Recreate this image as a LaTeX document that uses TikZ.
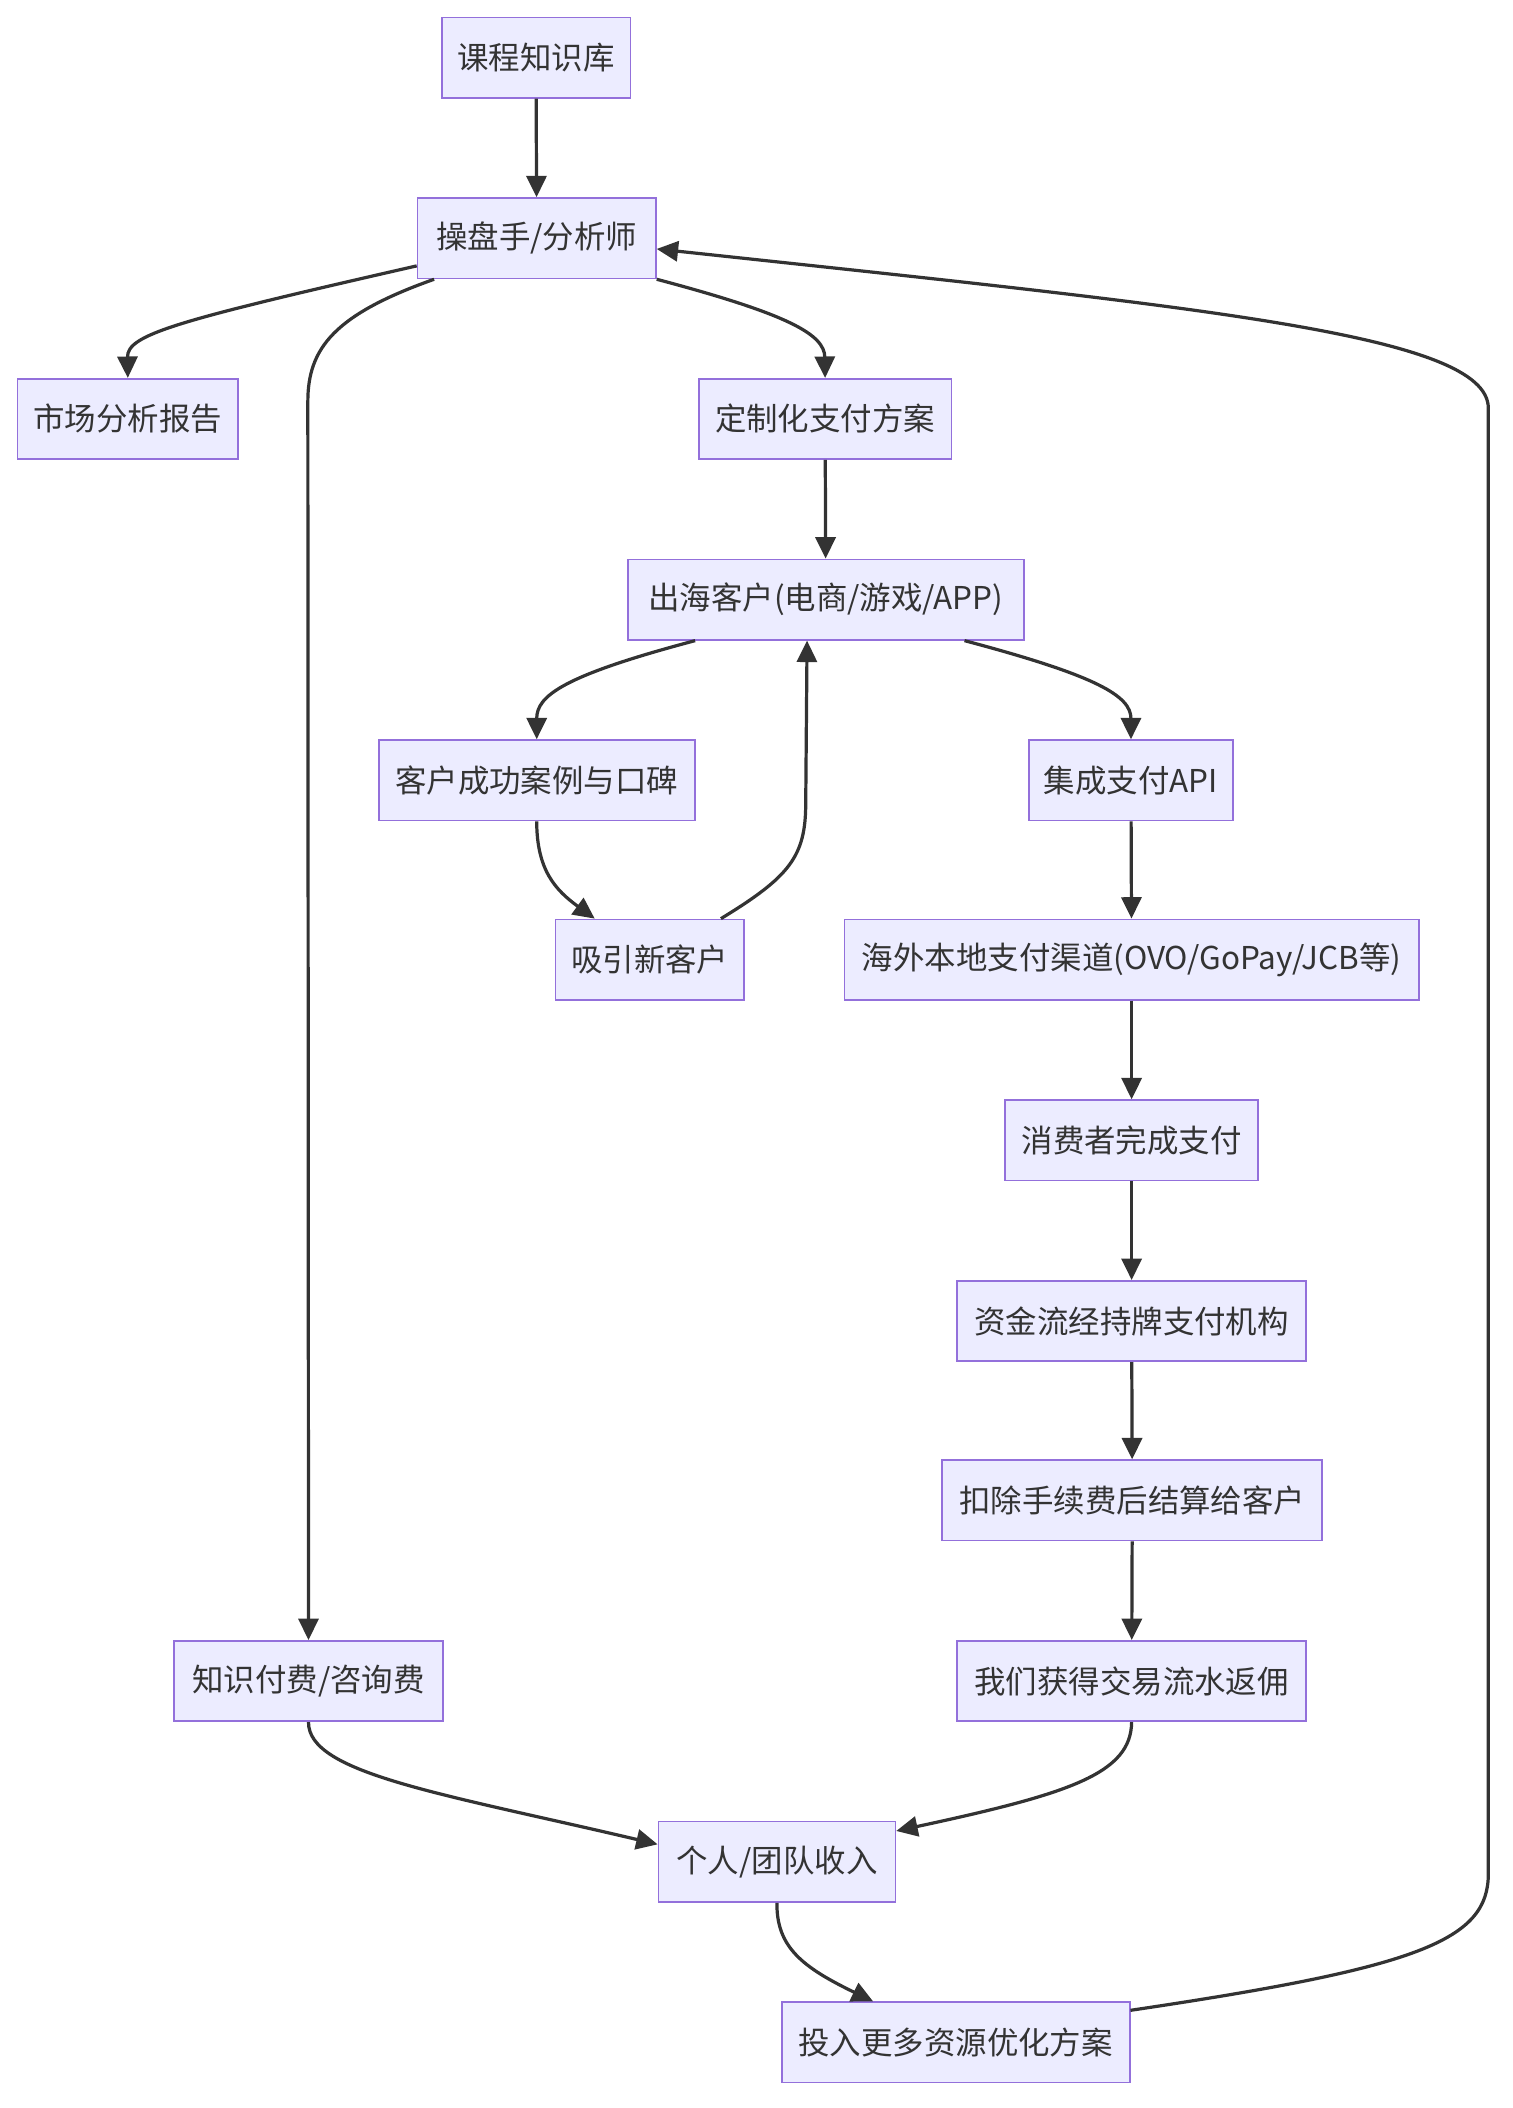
\documentclass[tikz,border=0pt]{standalone}
\usepackage{fontspec}
\setmainfont{Noto Sans CJK SC}
\usetikzlibrary{arrows.meta,calc}
\definecolor{boxfill}{HTML}{ECECFF}
\definecolor{boxline}{HTML}{9370DB}
\definecolor{ink}{HTML}{333333}
\begin{document}
\begin{tikzpicture}[x=1pt,y=-1pt,
  box/.style={draw=boxline,fill=boxfill,line width=1.3pt,minimum height=60pt,inner sep=0pt,text=ink,font=\fontsize{23.5}{28}\selectfont},
  edge/.style={draw=ink,line width=2.4pt,-{Triangle[length=16pt,width=15pt]}}]
\useasboundingbox[fill=white] (0,0) rectangle (1130,1575);
\node[box,minimum width=141pt] (n1) at (400.5,43) {课程知识库};
\node[box,minimum width=178pt] (n2) at (401,178) {操盘手/分析师};
\node[box,minimum width=165pt] (n3) at (95.5,313) {市场分析报告};
\node[box,minimum width=189pt] (n4) at (616.5,313) {定制化支付方案};
\node[box,minimum width=296pt] (n5) at (617,448) {出海客户(电商/游戏/APP)};
\node[box,minimum width=236pt] (n6) at (401,583) {客户成功案例与口碑};
\node[box,minimum width=152pt] (n7) at (845,583) {集成支付API};
\node[box,minimum width=141pt] (n8) at (485.5,717) {吸引新客户};
\node[box,minimum width=429pt] (n9) at (845.5,717) {海外本地支付渠道(OVO/GoPay/JCB等)};
\node[box,minimum width=189pt] (n10) at (845.5,852) {消费者完成支付};
\node[box,minimum width=261pt] (n11) at (845.5,987) {资金流经持牌支付机构};
\node[box,minimum width=284pt] (n12) at (846,1121) {扣除手续费后结算给客户};
\node[box,minimum width=201pt] (n13) at (230.5,1256) {知识付费/咨询费};
\node[box,minimum width=261pt] (n14) at (845.5,1256) {我们获得交易流水返佣};
\node[box,minimum width=177pt] (n15) at (580.5,1391) {个人/团队收入};
\node[box,minimum width=260pt] (n16) at (714,1526) {投入更多资源优化方案};

\draw[edge] (n1) -- (n2);
\draw[edge] ([yshift=10pt]n2.south west) .. controls (130,240) and (95,250) .. (n3.north);
\draw[edge] ([xshift=13pt]n2.south west) .. controls (250,235) and (230,260) .. (230,300) -- (n13.north);
\draw[edge] (n2.south east) .. controls (590,235) and (616,250) .. (n4.north);
\draw[edge] (n4) -- (n5);
\draw[edge] ([xshift=51pt]n5.south west) .. controls (420,505) and (401,520) .. (n6.north);
\draw[edge] ([xshift=-45pt]n5.south east) .. controls (820,505) and (845,520) .. (n7.north);
\draw[edge] (n6.south) .. controls (401,650) and (415,665) .. ([xshift=30pt]n8.north west);
\draw[edge] ([xshift=-18pt]n8.north east) .. controls (590,655) and (602,640) .. (602,600) -- ([xshift=-14pt]n5.south);
\draw[edge] (n7) -- (n9);
\draw[edge] (n9) -- (n10);
\draw[edge] (n10) -- (n11);
\draw[edge] (n11) -- (n12);
\draw[edge] (n12) -- (n14);
\draw[edge] (n13.south) .. controls (230,1325) and (330,1340) .. ([yshift=13pt]n15.west);
\draw[edge] (n14.south) .. controls (845,1325) and (800,1340) .. ([yshift=23pt]n15.east);
\draw[edge] (n15.south) .. controls (580,1455) and (600,1470) .. ([xshift=69pt]n16.north west);
\draw[edge] ([yshift=24pt]n16.east) .. controls (1060,1470) and (1112,1450) .. (1112,1400) -- (1112,305) .. controls (1112,250) and (900,230) .. ([yshift=-8pt]n2.east);
\end{tikzpicture}
\end{document}
